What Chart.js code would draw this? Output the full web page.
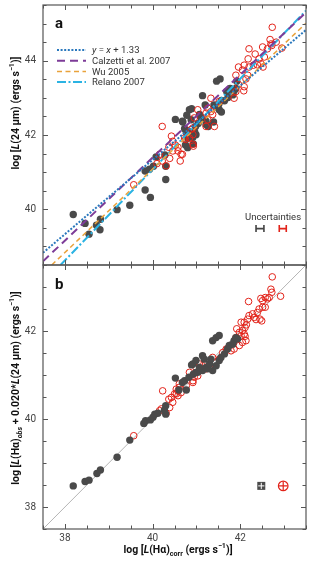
<!DOCTYPE html>
<html>
<head>
<meta charset="utf-8">
<script src="https://cdn.jsdelivr.net/npm/chart.js@4.4.1/dist/chart.umd.min.js"></script>
<style>
  html, body { margin: 0; padding: 0; background: #fff; }
  #wrap { position: relative; width: 321px; height: 567px; }
  canvas { position: absolute; left: 0; }
  #chartA { top: 0; }
  #chartB { top: 260px; }
</style>
</head>
<body>
<div id="wrap">
  <canvas id="chartA" width="321" height="270"></canvas>
  <canvas id="chartB" width="321" height="307"></canvas>
</div>
<script>
// Panel a: log L(24um) vs log L(Ha)corr
const aGrayX = [38.19, 38.46, 38.55, 38.72, 38.81, 38.80, 39.19, 39.48, 39.83, 39.95, 40.30, 40.30, 39.83, 39.93, 40.02, 40.08, 40.28,
  40.52, 40.69, 40.77, 40.89, 40.98, 41.07, 41.20, 40.99, 40.80, 40.93, 41.22, 41.46, 41.54, 41.92, 41.14, 41.69, 41.77, 41.86, 41.90,
  41.83, 41.72, 41.64, 41.57, 41.51, 41.45, 41.40, 41.52, 41.57, 40.84, 40.78, 40.88, 40.68, 40.73, 40.84, 40.96, 40.92, 40.80, 41.04,
  41.11, 41.22, 41.39, 41.27, 41.08, 40.75];
const aGrayY = [39.86, 39.62, 39.33, 39.57, 39.73, 39.45, 39.99, 40.11, 40.52, 40.32, 40.80, 41.16, 41.03, 41.08, 41.16, 41.41, 41.46,
  42.42, 42.35, 42.06, 42.71, 42.23, 42.55, 42.81, 42.01, 41.66, 41.76, 42.28, 43.45, 43.51, 43.45, 43.06, 43.17, 43.25, 43.19, 43.25,
  43.08, 43.01, 42.92, 42.93, 42.83, 42.76, 42.81, 42.68, 42.62, 42.68, 42.53, 42.41, 42.37, 42.17, 42.08, 42.08, 41.94, 41.91, 42.31,
  42.46, 42.37, 42.35, 42.23, 42.51, 41.73];
const aRedX = [42.73, 42.68, 42.70, 42.51, 42.62, 42.72, 42.95, 42.20, 42.55, 42.43, 42.18, 42.47, 42.52, 42.39, 42.30, 42.20, 42.09,
  41.96, 42.05, 42.17, 42.13, 42.09, 42.08, 41.96, 41.90, 41.90, 41.86, 41.33, 41.26, 41.52, 41.03, 41.37, 41.33, 41.22, 40.95, 41.26,
  41.22, 41.41, 40.22, 40.88, 40.92, 40.73, 40.46, 40.52, 40.58, 40.37, 40.92, 40.43, 40.58, 40.68, 40.63, 40.46, 40.39, 40.16, 40.10,
  40.22, 40.93, 40.92, 40.75, 40.84, 39.57, 40.31, 40.65, 42.82, 42.34];
const aRedY = [44.90, 44.57, 44.45, 44.37, 44.32, 44.41, 44.34, 44.32, 44.10, 44.05, 44.05, 43.92, 43.83, 43.89, 43.88, 43.83, 43.88,
  43.83, 43.75, 43.61, 43.51, 43.30, 43.19, 43.36, 43.17, 43.61, 42.99, 42.99, 42.72, 42.90, 42.68, 42.55, 42.63, 42.59, 42.46, 42.41,
  42.23, 42.23, 42.23, 42.15, 42.01, 41.92, 41.83, 41.73, 41.67, 41.67, 41.75, 41.97, 41.57, 41.48, 41.30, 41.57, 41.37, 41.48, 41.23,
  41.30, 41.70, 42.19, 41.88, 41.92, 40.66, 41.17, 41.48, 44.50, 44.18];

// Relations drawn in panel a (end points)
const fitX = [37.5, 43.5];
const fitOneToOne = [38.83, 44.83];   // y = x + 1.33
const fitCalzetti = [38.60, 45.30];
const fitWuX = [37.70, 43.5];
const fitWu = [38.50, 45.01];
const fitRelanoX = [37.90, 43.5];
const fitRelano = [38.50, 45.35];

// Panel b: log [L(Ha)obs + 0.020 L(24um)] vs log L(Ha)corr
const bGrayX = [38.19, 38.46, 38.55, 38.73, 38.81, 39.19, 39.48, 39.80, 39.84, 39.95, 40.01, 40.05, 40.12, 40.30, 40.30, 40.27, 40.52,
  40.77, 40.68, 40.73, 40.83, 40.89, 40.93, 40.99, 41.07, 41.14, 41.22, 41.37, 41.45, 41.52, 41.14, 41.18, 40.92, 40.99, 40.60, 41.37,
  41.45, 41.52, 41.56, 41.64, 41.71, 41.75, 41.83, 41.86, 41.90, 41.94, 41.26, 41.30, 41.03, 41.07, 41.33];
const bGrayY = [38.48, 38.58, 38.61, 38.76, 38.84, 39.13, 39.52, 39.90, 39.96, 39.98, 40.04, 40.11, 40.13, 40.30, 40.11, 40.20, 40.93,
  40.66, 40.83, 40.87, 40.95, 41.23, 41.02, 41.06, 41.14, 41.10, 41.17, 41.78, 41.85, 41.90, 41.44, 41.36, 41.25, 41.33, 40.66, 41.10,
  41.21, 41.33, 41.40, 41.48, 41.59, 41.67, 41.70, 41.78, 41.85, 41.82, 41.14, 41.25, 41.06, 41.17, 41.36];
const bRedX = [42.73, 42.70, 42.72, 42.92, 42.19, 42.47, 42.57, 42.62, 42.51, 42.66, 42.43, 42.51, 42.57, 42.39, 42.28, 42.20, 42.32,
  42.45, 42.49, 42.36, 42.17, 42.09, 42.02, 42.14, 42.11, 42.05, 42.09, 42.02, 41.98, 42.11, 41.92, 41.90, 42.13, 42.05, 41.98, 41.86,
  41.79, 41.68, 41.60, 41.52, 41.41, 41.37, 41.30, 41.22, 41.14, 41.07, 41.03, 40.95, 40.92, 40.84, 40.77, 40.61, 40.54, 40.50, 40.58,
  40.43, 40.23, 39.57, 40.16, 40.39, 40.46, 40.37, 40.54, 40.58, 40.65, 40.61, 40.92, 40.99, 40.31, 40.20];
const bRedY = [43.23, 42.95, 42.88, 42.79, 42.67, 42.74, 42.76, 42.73, 42.69, 42.76, 42.50, 42.54, 42.54, 42.42, 42.39, 42.35, 42.31,
  42.27, 42.23, 42.26, 42.27, 42.20, 42.20, 42.14, 42.08, 42.01, 41.93, 41.89, 41.97, 41.88, 42.05, 41.85, 41.78, 41.74, 41.67, 41.59,
  41.55, 41.59, 41.51, 41.36, 41.29, 41.40, 41.21, 41.14, 41.21, 41.25, 40.98, 40.95, 40.87, 41.06, 40.76, 40.80, 40.68, 40.57, 40.53,
  40.49, 40.64, 39.62, 40.19, 40.26, 40.38, 40.45, 40.57, 40.64, 40.60, 40.72, 40.83, 41.17, 40.13, 40.23];
const diagX = [37.5, 43.5];
const diagY = [37.5, 43.5];

// Uncertainty markers: [gray, red]
const uncAX = [42.45, 42.97];
const uncAY = [39.48, 39.48];
const uncAErr = [0.09, 0.08];
const uncBX = [42.48, 42.98];
const uncBY = [38.48, 38.48];
const uncBErr = [0.07, 0.1];

// Tick labels
const xTickLabels = [38, 40, 42];
const aYTickLabels = [40, 42, 44];
const bYTickLabels = [38, 40, 42];

const FONT = 'Roboto, "Liberation Sans", sans-serif';
const GRAY = '#4a4a4a';
const RED = '#e2231a';

const pts = (xs, ys) => xs.map((x, i) => ({ x: x, y: ys[i] }));
const T = (t, o) => Object.assign({ t: t }, o || {});

// Draws a run of text pieces (italic, sub/superscript) centred on x,y
function richText(ctx, parts, x, y, size, opt) {
  ctx.save();
  ctx.translate(x, y);
  if (opt.rotate) ctx.rotate(-Math.PI / 2);
  const weight = opt.bold ? 'bold ' : '';
  const fontOf = p => (p.it ? 'italic ' : '') + weight + ((p.sub || p.sup) ? size * 0.68 : size) + 'px ' + FONT;
  let total = 0;
  parts.forEach(p => { ctx.font = fontOf(p); p.w = ctx.measureText(p.t).width; total += p.w; });
  let cx = opt.align === 'left' ? 0 : -total / 2;
  ctx.textBaseline = 'alphabetic';
  ctx.fillStyle = opt.color || '#222';
  parts.forEach(p => {
    ctx.font = fontOf(p);
    const dy = p.sub ? size * 0.3 : p.sup ? -size * 0.4 : 0;
    ctx.fillText(p.t, cx, size * 0.35 + dy);
    cx += p.w;
  });
  ctx.restore();
}

// Frame around the plot and inward tick marks on all four sides
function frameAndTicks(chart, xLab, yLab) {
  const { ctx, chartArea: a, scales } = chart;
  ctx.save();
  ctx.strokeStyle = '#555';
  ctx.lineWidth = 1.2;
  ctx.strokeRect(a.left, a.top, a.right - a.left, a.bottom - a.top);
  ctx.lineWidth = 1;
  ctx.beginPath();
  scales.x.ticks.forEach(t => {
    const px = Math.round(scales.x.getPixelForValue(t.value)) + 0.5;
    const len = xLab.includes(t.value) ? 5 : 3.5;
    ctx.moveTo(px, a.top); ctx.lineTo(px, a.top + len);
    ctx.moveTo(px, a.bottom); ctx.lineTo(px, a.bottom - len);
  });
  scales.y.ticks.forEach(t => {
    const py = Math.round(scales.y.getPixelForValue(t.value)) + 0.5;
    const len = yLab.includes(t.value) ? 5 : 3.5;
    ctx.moveTo(a.left, py); ctx.lineTo(a.left + len, py);
    ctx.moveTo(a.right, py); ctx.lineTo(a.right - len, py);
  });
  ctx.stroke();
  ctx.restore();
}

const legendItems = [
  { parts: [T('y', { it: true }), T(' = '), T('x', { it: true }), T(' + 1.33')], color: '#2a78bd', dash: [2, 1.6], width: 2 },
  { parts: [T('Calzetti et al. 2007')], color: '#7d3c98', dash: [8, 5], width: 2 },
  { parts: [T('Wu 2005')], color: '#e9a23b', dash: [5, 3.5], width: 1.5 },
  { parts: [T('Relano 2007')], color: '#2bb3e3', dash: [9, 2.5, 2, 2.5], width: 2 }
];

const panelAPlugin = {
  id: 'panelA',
  afterDraw(chart) {
    const { ctx, chartArea: a, scales } = chart;
    frameAndTicks(chart, xTickLabels, aYTickLabels);
    ctx.save();
    ctx.fillStyle = '#111';
    ctx.font = 'bold 15px ' + FONT;
    ctx.textBaseline = 'alphabetic';
    ctx.fillText('a', a.left + 12, a.top + 23);
    // legend
    legendItems.forEach((it, i) => {
      const y = a.top + 45 + i * 10.7;
      ctx.beginPath();
      ctx.setLineDash(it.dash);
      ctx.strokeStyle = it.color;
      ctx.lineWidth = it.width;
      ctx.moveTo(a.left + 14, y);
      ctx.lineTo(a.left + 43, y);
      ctx.stroke();
      ctx.setLineDash([]);
      richText(ctx, it.parts, a.left + 49, y, 9.5, { align: 'left', color: '#333' });
    });
    // uncertainties
    richText(ctx, [T('Uncertainties')], 273, 217, 9.5, { color: '#333' });
    uncAX.forEach((v, i) => {
      const px = scales.x.getPixelForValue(v);
      const py = scales.y.getPixelForValue(uncAY[i]);
      const h = scales.x.getPixelForValue(v + uncAErr[i]) - px;
      ctx.strokeStyle = i === 0 ? '#444' : RED;
      ctx.lineWidth = 1.6;
      ctx.beginPath();
      ctx.moveTo(px - h, py); ctx.lineTo(px + h, py);
      ctx.moveTo(px - h, py - 3.5); ctx.lineTo(px - h, py + 3.5);
      ctx.moveTo(px + h, py - 3.5); ctx.lineTo(px + h, py + 3.5);
      ctx.stroke();
    });
    // y axis title
    richText(ctx, [T('log ['), T('L', { it: true }), T('(24 \u03bcm) (ergs s'), T('\u22121', { sup: true }), T(')]')],
      15, 113, 10.5, { rotate: true, bold: true, color: '#111' });
    ctx.restore();
  }
};

const panelBPlugin = {
  id: 'panelB',
  afterDraw(chart) {
    const { ctx, chartArea: a, scales } = chart;
    frameAndTicks(chart, xTickLabels, bYTickLabels);
    ctx.save();
    ctx.fillStyle = '#111';
    ctx.font = 'bold 15px ' + FONT;
    ctx.fillText('b', a.left + 12, a.top + 24);
    // uncertainties
    uncBX.forEach((v, i) => {
      const px = scales.x.getPixelForValue(v);
      const py = scales.y.getPixelForValue(uncBY[i]);
      const h = scales.x.getPixelForValue(v + uncBErr[i]) - px;
      if (i === 0) {
        ctx.fillStyle = GRAY;
        ctx.fillRect(px - 4, py - 4, 8, 8);
        ctx.strokeStyle = '#fff';
        ctx.lineWidth = 1;
      } else {
        ctx.strokeStyle = RED;
        ctx.lineWidth = 1.2;
        ctx.beginPath();
        ctx.arc(px, py, 4.8, 0, Math.PI * 2);
        ctx.stroke();
      }
      ctx.beginPath();
      ctx.moveTo(px - h, py); ctx.lineTo(px + h, py);
      ctx.moveTo(px, py - h); ctx.lineTo(px, py + h);
      ctx.stroke();
    });
    richText(ctx, [T('log ['), T('L', { it: true }), T('(H\u03b1)'), T('obs', { sub: true, it: true }), T(' + 0.020*'),
      T('L', { it: true }), T('(24 \u03bcm) (ergs s'), T('\u22121', { sup: true }), T(')]')],
      15, 128, 10.5, { rotate: true, bold: true, color: '#111' });
    richText(ctx, [T('log ['), T('L', { it: true }), T('(H\u03b1)'), T('corr', { sub: true }), T(' (ergs s'),
      T('\u22121', { sup: true }), T(')]')], 178, 289, 10.5, { bold: true, color: '#111' });
    ctx.restore();
  }
};

const tickFont = { size: 10, family: FONT };

function axes(yMin, yMax, yLabels, showX, xHeight) {
  return {
    x: {
      type: 'linear', min: 37.5, max: 43.5,
      ticks: { stepSize: 0.5, autoSkip: false, display: showX, padding: 3, color: '#444', font: tickFont,
        callback: v => xTickLabels.includes(v) ? String(v) : '' },
      grid: { display: false, drawTicks: false }, border: { display: false },
      afterFit: s => { s.height = xHeight; s.paddingLeft = 0; s.paddingRight = 0; }
    },
    y: {
      type: 'linear', min: yMin, max: yMax,
      ticks: { stepSize: 0.5, autoSkip: false, padding: 7, color: '#444', font: tickFont,
        callback: v => yLabels.includes(v) ? String(v) : '' },
      grid: { display: false, drawTicks: false }, border: { display: false },
      afterFit: s => { s.width = 43; s.paddingTop = 0; s.paddingBottom = 0; }
    }
  };
}

const common = {
  responsive: false,
  animation: false,
  devicePixelRatio: 1,
  plugins: { legend: { display: false }, tooltip: { enabled: false } }
};

new Chart(document.getElementById('chartA'), {
  type: 'scatter',
  data: {
    datasets: [
      { type: 'line', label: 'y = x + 1.33', data: pts(fitX, fitOneToOne), borderColor: '#2a78bd', borderWidth: 2,
        borderDash: [2, 1.6], pointRadius: 0, clip: 0, order: 0 },
      { type: 'line', label: 'Calzetti et al. 2007', data: pts(fitX, fitCalzetti), borderColor: '#7d3c98', borderWidth: 2,
        borderDash: [8, 5], pointRadius: 0, clip: 0, order: 0 },
      { type: 'line', label: 'Wu 2005', data: pts(fitWuX, fitWu), borderColor: '#e9a23b', borderWidth: 1.5,
        borderDash: [5, 3.5], pointRadius: 0, clip: 0, order: 0 },
      { type: 'line', label: 'Relano 2007', data: pts(fitRelanoX, fitRelano), borderColor: '#2bb3e3', borderWidth: 2,
        borderDash: [9, 2.5, 2, 2.5], pointRadius: 0, clip: 0, order: 0 },
      { label: 'red', data: pts(aRedX, aRedY), pointRadius: 3.3, backgroundColor: 'rgba(255,255,255,0)',
        borderColor: RED, borderWidth: 1, order: 1 },
      { label: 'gray', data: pts(aGrayX, aGrayY), pointRadius: 3.7, backgroundColor: GRAY,
        borderColor: GRAY, borderWidth: 0, order: 2 }
    ]
  },
  options: Object.assign({}, common, {
    layout: { padding: { top: 2, right: 15, left: 0, bottom: 0 } },
    scales: axes(38.5, 45.5, aYTickLabels, false, 5)
  }),
  plugins: [panelAPlugin]
});

new Chart(document.getElementById('chartB'), {
  type: 'scatter',
  data: {
    datasets: [
      { label: 'gray', data: pts(bGrayX, bGrayY), pointRadius: 3.7, backgroundColor: GRAY,
        borderColor: GRAY, borderWidth: 0, order: 1 },
      { label: 'red', data: pts(bRedX, bRedY), pointRadius: 3.3, backgroundColor: 'rgba(255,255,255,0)',
        borderColor: RED, borderWidth: 1, order: 2 },
      { type: 'line', label: 'one-to-one', data: pts(diagX, diagY), borderColor: '#b5b5b5', borderWidth: 1,
        pointRadius: 0, clip: 0, order: 3 }
    ]
  },
  options: Object.assign({}, common, {
    layout: { padding: { top: 5, right: 15, left: 0, bottom: 0 } },
    scales: axes(37.5, 43.5, bYTickLabels, true, 38)
  }),
  plugins: [panelBPlugin]
});
</script>
</body>
</html>
